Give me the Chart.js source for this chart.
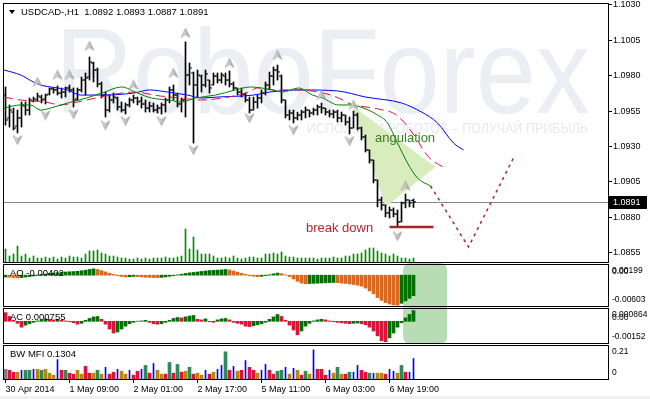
<!DOCTYPE html>
<html>
<head>
<meta charset="utf-8">
<title>USDCAD-,H1</title>
<script src="https://cdn.jsdelivr.net/npm/chart.js@4.4.1/dist/chart.umd.min.js"></script>
<style>
html, body { margin:0; padding:0; background:#fff; overflow:hidden; }
#wrap { position:relative; width:650px; height:399px; background:#fff; }
#wrap canvas { position:absolute; left:0; }
#strip { position:absolute; left:0; top:396px; width:650px; height:3px; background:#f0f0f0; }
</style>
</head>
<body>
<div id="wrap">
<canvas id="cMain" width="650" height="263" style="top:0px"></canvas>
<canvas id="cAO" width="650" height="44" style="top:263px"></canvas>
<canvas id="cAC" width="650" height="37" style="top:307px"></canvas>
<canvas id="cMFI" width="650" height="52" style="top:344px"></canvas>
<div id="strip"></div>
</div>
<script>
// ---------------- DATA ----------------
const symbol = 'USDCAD-';
const timeframe = 'H1';

const open = [1.09664,1.09502,1.09544,1.09445,1.09502,1.09587,1.09558,1.09622,1.09629,1.09650,
1.09636,1.09671,1.09707,1.09700,1.09678,1.09685,1.09714,1.09700,1.09636,1.09700,
1.09770,1.09791,1.09890,1.09841,1.09742,1.09664,1.09558,1.09629,1.09643,1.09580,
1.09558,1.09594,1.09629,1.09643,1.09622,1.09601,1.09572,1.09587,1.09558,1.09572,
1.09594,1.09629,1.09700,1.09664,1.09601,1.09629,1.09806,1.09820,1.09735,1.09798,
1.09735,1.09770,1.09735,1.09798,1.09770,1.09798,1.09770,1.09742,1.09714,1.09685,
1.09671,1.09629,1.09558,1.09615,1.09643,1.09678,1.09735,1.09798,1.09841,1.09798,
1.09629,1.09523,1.09537,1.09502,1.09523,1.09544,1.09558,1.09537,1.09558,1.09580,
1.09572,1.09544,1.09530,1.09544,1.09502,1.09523,1.09474,1.09431,1.09523,1.09431,
1.09368,1.09276,1.09205,1.09064,1.08923,1.08888,1.08831,1.08852,1.08824,1.08768,
1.08902,1.08923,1.08920];

const high = [1.09721,1.09594,1.09572,1.09558,1.09615,1.09615,1.09643,1.09650,1.09678,1.09664,
1.09671,1.09714,1.09714,1.09728,1.09714,1.09721,1.09735,1.09714,1.09714,1.09791,
1.09820,1.09933,1.09897,1.09855,1.09756,1.09685,1.09664,1.09678,1.09650,1.09615,
1.09608,1.09643,1.09664,1.09650,1.09650,1.09629,1.09615,1.09608,1.09594,1.09608,
1.09643,1.09721,1.09735,1.09678,1.09643,1.10039,1.09890,1.09827,1.09841,1.09806,
1.09841,1.09770,1.09820,1.09820,1.09820,1.09820,1.09834,1.09756,1.09714,1.09714,
1.09678,1.09650,1.09650,1.09664,1.09700,1.09756,1.09827,1.09862,1.09876,1.09806,
1.09629,1.09558,1.09558,1.09544,1.09558,1.09580,1.09558,1.09572,1.09594,1.09608,
1.09572,1.09558,1.09558,1.09558,1.09544,1.09523,1.09509,1.09551,1.09537,1.09438,
1.09382,1.09276,1.09205,1.09064,1.08944,1.08888,1.08874,1.08867,1.08852,1.08909,
1.08965,1.08923,1.08930];

const low = [1.09452,1.09438,1.09417,1.09396,1.09438,1.09523,1.09523,1.09615,1.09622,1.09608,
1.09601,1.09664,1.09678,1.09664,1.09643,1.09650,1.09685,1.09580,1.09629,1.09685,
1.09664,1.09770,1.09756,1.09721,1.09643,1.09509,1.09544,1.09608,1.09558,1.09544,
1.09530,1.09580,1.09608,1.09594,1.09572,1.09544,1.09544,1.09544,1.09537,1.09530,
1.09544,1.09608,1.09629,1.09580,1.09544,1.09509,1.09735,1.09325,1.09650,1.09685,
1.09721,1.09678,1.09735,1.09749,1.09749,1.09735,1.09721,1.09700,1.09664,1.09650,
1.09615,1.09537,1.09558,1.09572,1.09608,1.09664,1.09700,1.09735,1.09770,1.09608,
1.09502,1.09488,1.09467,1.09488,1.09488,1.09502,1.09509,1.09523,1.09523,1.09537,
1.09523,1.09509,1.09502,1.09474,1.09474,1.09452,1.09389,1.09431,1.09417,1.09347,
1.09262,1.09184,1.09043,1.08874,1.08852,1.08803,1.08796,1.08803,1.08739,1.08768,
1.08867,1.08874,1.08870];

const close = [1.09488,1.09558,1.09431,1.09502,1.09594,1.09558,1.09629,1.09636,1.09657,1.09629,
1.09664,1.09707,1.09700,1.09678,1.09685,1.09714,1.09700,1.09629,1.09700,1.09770,
1.09784,1.09897,1.09841,1.09742,1.09664,1.09558,1.09629,1.09650,1.09580,1.09558,
1.09594,1.09629,1.09643,1.09615,1.09601,1.09572,1.09587,1.09558,1.09572,1.09594,
1.09629,1.09700,1.09664,1.09601,1.09629,1.09806,1.09855,1.09735,1.09806,1.09735,
1.09813,1.09714,1.09798,1.09770,1.09806,1.09770,1.09742,1.09714,1.09685,1.09671,
1.09629,1.09558,1.09615,1.09643,1.09678,1.09735,1.09798,1.09841,1.09827,1.09629,
1.09523,1.09537,1.09502,1.09523,1.09544,1.09558,1.09537,1.09558,1.09580,1.09572,
1.09544,1.09530,1.09544,1.09502,1.09523,1.09474,1.09431,1.09523,1.09431,1.09368,
1.09276,1.09205,1.09064,1.08923,1.08888,1.08831,1.08852,1.08824,1.08768,1.08902,
1.08923,1.08902,1.08910];

const tickVolume = [910,420,560,1120,420,560,280,420,280,280,
350,280,350,210,350,280,420,350,350,280,
560,770,770,840,630,560,420,420,350,280,
280,210,210,280,210,280,210,280,280,280,
350,280,280,350,420,2310,910,1750,840,560,
560,560,420,280,280,350,280,420,280,210,
280,350,350,280,280,560,560,630,560,700,
420,350,350,280,280,280,280,280,210,280,
280,280,350,280,280,420,420,560,560,630,
840,980,980,770,630,560,420,560,420,280,
280,210,280];

// Alligator lines: [bar index, price]
const jawIdx   = [-0.375,3.75,7,8.75,15.5,18.75,23.75,32,36,40.5,45.5,49,53,62,66,74,83,90,99,104,108,112,114.5];
const jawPrice = [1.09841,1.09806,1.09756,1.09735,1.09700,1.09664,1.09664,1.09678,1.09700,1.09685,1.09664,1.09643,1.09650,1.09664,1.09685,1.09700,1.09693,1.09650,1.09608,1.09544,1.09467,1.09325,1.09276];
const teethIdx   = [-0.375,3.75,10,13.75,18,23.75,32,38.75,43.75,48.75,55.75,60.75,63,67.25,73,79.5,83.25,86.25,93.25,97.75,101.75,105.75,109.75];
const teethPrice = [1.09650,1.09629,1.09615,1.09594,1.09615,1.09650,1.09685,1.09657,1.09643,1.09629,1.09650,1.09685,1.09714,1.09700,1.09700,1.09678,1.09643,1.09601,1.09565,1.09523,1.09396,1.09227,1.09149];
const lipsIdx   = [-0.375,3.75,6.25,8.75,11.25,15.5,20.25,24.75,29,33,36.5,40.75,44,47.5,52.5,57.5,61.25,66.75,69.25,73.25,76.75,79.25,83.25,86.25,89.5,93,95.5,98,100.5,103,106.25];
const lipsPrice = [1.09572,1.09594,1.09594,1.09558,1.09572,1.09608,1.09643,1.09685,1.09721,1.09678,1.09643,1.09629,1.09615,1.09643,1.09664,1.09700,1.09721,1.09700,1.09685,1.09714,1.09664,1.09643,1.09594,1.09594,1.09572,1.09523,1.09467,1.09325,1.09184,1.09078,1.09022];

// Fractals
const fractalUpIdx   = [8,13,16,21,32,42,45,56,68,79,87,100];
const fractalUpPrice = [1.09756,1.09806,1.09806,1.10010,1.09735,1.09820,1.10102,1.09890,1.09947,1.09664,1.09594,1.09022];
const fractalDnIdx   = [3,10,17,25,30,39,47,61,72,86,98];
const fractalDnPrice = [1.09347,1.09523,1.09530,1.09452,1.09481,1.09481,1.09276,1.09502,1.09417,1.09340,1.08669];

// Annotations
const angulationIdx   = [86.75,107.5,95];
const angulationPrice = [1.09587,1.09156,1.08874];
const angulationText  = {idx:92.4, price:1.09361, text:'angulation'};
const breakDownText   = {idx:75.1, price:1.08725, text:'break down'};
const breakLineIdx    = [96,107];
const breakLinePrice  = [1.08732,1.08732];
const forecastIdx     = [106.25,115.75,127];
const forecastPrice   = [1.09022,1.08591,1.09220];
const highlightRange  = [99.4,110.4];

// Axes
const priceTicks   = [1.0855,1.0880,1.0905,1.0930,1.0955,1.0980,1.1005,1.1030];
const timeTickIdx  = [0,16,32,48,64,80,96];
const timeLabels   = ['30 Apr 2014','1 May 09:00','2 May 01:00','2 May 17:00','5 May 11:00','6 May 03:00','6 May 19:00'];

// Awesome Oscillator
const aoValues = [-0.00037,-0.00041,-0.00047,-0.00052,-0.00047,-0.00037,-0.00028,-0.00015,0.00004,0.00015,
0.00022,0.00034,0.00041,0.00048,0.00056,0.00062,0.00067,0.00071,0.00075,0.00086,
0.00097,0.00112,0.00123,0.00112,0.00090,0.00063,0.00037,0.00015,-0.00011,-0.00026,
-0.00034,-0.00030,-0.00024,-0.00028,-0.00034,-0.00041,-0.00045,-0.00047,-0.00048,-0.00043,
-0.00034,-0.00022,-0.00009,0.00006,0.00019,0.00034,0.00045,0.00054,0.00063,0.00073,
0.00082,0.00090,0.00095,0.00099,0.00104,0.00110,0.00101,0.00082,0.00060,0.00037,
0.00015,-0.00011,-0.00022,-0.00030,-0.00022,-0.00009,0.00007,0.00026,0.00041,0.00030,
0.00007,-0.00028,-0.00075,-0.00121,-0.00155,-0.00168,-0.00164,-0.00160,-0.00157,-0.00153,
-0.00149,-0.00145,-0.00142,-0.00147,-0.00155,-0.00162,-0.00172,-0.00183,-0.00196,-0.00214,
-0.00252,-0.00308,-0.00364,-0.00438,-0.00494,-0.00537,-0.00565,-0.00582,-0.00589,-0.00550,
-0.00504,-0.00453,-0.00402];
const aoAxis = {min:-0.00603, max:0.00199, labels:[[0.00199,'0.00199'],[0,'0.00'],[-0.00603,'-0.00603']]};

// Accelerator Oscillator
const acValues = [0.00061,0.00034,0.00007,-0.00014,-0.00041,-0.00027,-0.00017,-0.00007,0.00003,0.00010,
0.00017,0.00014,0.00010,0.00014,0.00007,0.00003,-0.00003,-0.00010,-0.00020,-0.00014,
0.00007,0.00020,0.00031,0.00034,0.00014,-0.00020,-0.00054,-0.00082,-0.00075,-0.00054,
-0.00034,-0.00017,-0.00007,0.00001,0.00003,0.00007,-0.00007,-0.00017,-0.00020,-0.00017,
-0.00007,0.00007,0.00020,0.00027,0.00024,0.00031,0.00037,0.00041,0.00014,0.00010,
0.00017,-0.00003,-0.00007,0.00010,0.00017,0.00020,0.00010,-0.00007,-0.00014,-0.00020,
-0.00034,-0.00037,-0.00031,-0.00024,-0.00017,-0.00007,0.00014,0.00031,0.00048,0.00034,
0.00007,-0.00027,-0.00061,-0.00095,-0.00068,-0.00034,-0.00014,0.00003,0.00010,0.00014,
0.00010,0.00003,-0.00003,-0.00007,-0.00010,-0.00014,-0.00017,-0.00014,-0.00012,-0.00017,
-0.00024,-0.00041,-0.00068,-0.00102,-0.00136,-0.00143,-0.00116,-0.00082,-0.00041,-0.00010,
0.00024,0.00048,0.000755];
const acAxis = {min:-0.00152, max:0.000864, labels:[[0.000864,'0.000864'],[0,'0.00'],[-0.00152,'-0.00152']]};

// Market Facilitation Index
const mfiValues = [0.0618,0.0556,0.0433,0.0433,0.0556,0.0556,0.0556,0.0618,0.0618,0.0556,
0.0618,0.0371,0.0247,0.1236,0.0556,0.0556,0.0371,0.0309,0.0556,0.0309,
0.0803,0.0371,0.0371,0.0556,0.0309,0.0742,0.0309,0.0433,0.0618,0.0494,
0.0309,0.0556,0.0247,0.0494,0.0618,0.0865,0.0371,0.0989,0.0556,0.0309,
0.0309,0.1051,0.0371,0.0927,0.0433,0.0494,0.0742,0.0309,0.0371,0.0247,
0.0556,0.0309,0.0433,0.0618,0.0865,0.1730,0.0556,0.0803,0.0494,0.0556,
0.1174,0.0742,0.0556,0.0371,0.0556,0.0927,0.0556,0.0309,0.0494,0.0556,
0.0742,0.0309,0.0680,0.0556,0.0247,0.0494,0.0309,0.1854,0.0618,0.0618,
0.0247,0.0556,0.0371,0.0742,0.0309,0.0309,0.0433,0.0433,0.0865,0.0556,
0.0433,0.0371,0.0371,0.0371,0.0371,0.0309,0.0618,0.0494,0.0371,0.0865,
0.0433,0.0433,0.1304];
// MFI zones: G = green, F = fade, K = fake, S = squat, N = none
const mfiZone = ['N','S','S','F','K','G','G','K','F','G',
'F','F','F','K','S','G','S','S','F','F',
'S','S','F','G','F','K','S','S','K','F',
'F','K','S','S','K','G','S','K','F','F',
'S','G','S','G','S','F','G','S','F','F',
'K','S','F','K','K','G','S','K','F','S',
'K','S','S','F','K','K','S','S','G','G',
'K','F','K','F','S','G','F','K','S','S',
'S','K','F','G','F','S','G','K','K','S',
'S','G','K','F','F','S','K','K','F','G',
'S','K','K'];
const mfiAxis = {min:0, max:0.21, labels:[[0.21,'0.21'],[0,'0']]};

const WATERMARK = 'RoboForex';
const WATERMARK_SUB = 'ИСПОЛЬЗУЙ РОБОТОВ – ПОЛУЧАЙ ПРИБЫЛЬ';

// ---------------- VIEW / STYLE ----------------
const FONT = '"Liberation Sans", Arial, sans-serif';
const X_MIN = -0.375, X_MAX = 150.625;
const Y_MIN = 1.08485, Y_MAX = 1.10307;
const VOL_MAX = 18060;
const AXIS_W = 42;
const TICK_SHIFT = 0.375;
const LAST = close.length - 1;

Chart.defaults.font.family = FONT;
Chart.defaults.color = '#000';

function makeArrow(up) {
  const c = document.createElement('canvas');
  c.width = 11; c.height = 11;
  const g = c.getContext('2d');
  g.beginPath();
  if (up) { g.moveTo(5.5,0.8); g.lineTo(10,9.8); g.lineTo(5.5,7); g.lineTo(1,9.8); }
  else { g.moveTo(5.5,10.2); g.lineTo(10,1.2); g.lineTo(5.5,4); g.lineTo(1,1.2); }
  g.closePath();
  const grd = g.createLinearGradient(1,0,10,0);
  grd.addColorStop(0,'#f0f0f0'); grd.addColorStop(0.5,'#c4c4c4'); grd.addColorStop(1,'#9a9a9a');
  g.fillStyle = grd; g.fill();
  g.strokeStyle = '#a2a2a2'; g.lineWidth = 0.7; g.stroke();
  return c;
}
const upArrow = makeArrow(true), dnArrow = makeArrow(false);

function baseOptions(padTop, padBottom) {
  return {
    responsive: false, animation: false, devicePixelRatio: 1, events: [],
    layout: { padding: { left: 4, right: 0, top: padTop, bottom: padBottom }, autoPadding: false },
    plugins: { legend: { display: false }, tooltip: { enabled: false } }
  };
}
function hiddenX() {
  return { type: 'linear', min: X_MIN, max: X_MAX, offset: false, display: false, grid: { offset: false } };
}
function fixY(s) { s.width = AXIS_W; s.paddingTop = 0; s.paddingBottom = 0; }
function panelY(axis) {
  return { type: 'linear', position: 'right', min: axis.min, max: axis.max,
    ticks: { display: false }, grid: { display: false }, border: { display: false }, afterFit: fixY };
}
function pts(idx, vals) { return idx.map((x, k) => ({ x: x, y: vals[k] })); }

function drawFrame(chart) {
  const { ctx, chartArea: a } = chart;
  ctx.save();
  ctx.strokeStyle = '#000'; ctx.lineWidth = 1;
  ctx.strokeRect(a.left - 0.5, a.top - 0.5, a.right - a.left + 1, a.bottom - a.top + 1);
  ctx.restore();
}

// ---------------- MAIN CHART ----------------
const mainDecor = {
  id: 'mainDecor',
  beforeDraw(chart) {
    const { ctx, chartArea: a } = chart;
    ctx.save();
    ctx.beginPath(); ctx.rect(a.left, a.top, a.right - a.left, a.bottom - a.top); ctx.clip();
    ctx.textBaseline = 'alphabetic';
    ctx.fillStyle = '#ebeef3';
    ctx.font = '120px ' + FONT;
    const mw = ctx.measureText(WATERMARK).width;
    ctx.save(); ctx.translate(55, 113); ctx.scale(535 / mw, 1); ctx.fillText(WATERMARK, 0, 0); ctx.restore();
    ctx.fillStyle = '#e6eaef';
    ctx.font = '15px ' + FONT;
    const sw = ctx.measureText(WATERMARK_SUB).width;
    ctx.save(); ctx.translate(307, 133); ctx.scale(281 / sw, 1); ctx.fillText(WATERMARK_SUB, 0, 0); ctx.restore();
    ctx.restore();
  },
  beforeDatasetsDraw(chart) {
    const { ctx, chartArea: a, scales: { x, y } } = chart;
    ctx.save();
    const py = Math.round(y.getPixelForValue(close[LAST])) + 0.5;
    ctx.strokeStyle = '#7b8b9b'; ctx.lineWidth = 1;
    ctx.beginPath(); ctx.moveTo(a.left, py); ctx.lineTo(a.right, py); ctx.stroke();
    ctx.fillStyle = '#d8ecbe';
    ctx.beginPath();
    angulationIdx.forEach((xi, k) => {
      const px = x.getPixelForValue(xi), pyy = y.getPixelForValue(angulationPrice[k]);
      if (k) ctx.lineTo(px, pyy); else ctx.moveTo(px, pyy);
    });
    ctx.closePath(); ctx.fill();
    ctx.restore();
  },
  afterDatasetsDraw(chart) {
    const { ctx, scales: { x, y } } = chart;
    ctx.save();
    ctx.textBaseline = 'middle'; ctx.textAlign = 'left';
    ctx.font = '13px ' + FONT;
    ctx.fillStyle = '#3b7d23';
    ctx.fillText(angulationText.text, x.getPixelForValue(angulationText.idx), y.getPixelForValue(angulationText.price));
    ctx.fillStyle = '#b4282e';
    ctx.fillText(breakDownText.text, x.getPixelForValue(breakDownText.idx), y.getPixelForValue(breakDownText.price));
    ctx.restore();
  },
  afterDraw(chart) {
    const { ctx, chartArea: a, scales: { y } } = chart;
    drawFrame(chart);
    ctx.save();
    ctx.fillStyle = '#000';
    ctx.beginPath(); ctx.moveTo(a.left + 5, a.top + 6); ctx.lineTo(a.left + 11, a.top + 6); ctx.lineTo(a.left + 8, a.top + 10); ctx.closePath(); ctx.fill();
    ctx.font = '9.5px ' + FONT; ctx.textBaseline = 'middle';
    const hdr = symbol + ',' + timeframe + '  ' + [open[LAST], high[LAST], low[LAST], close[LAST]].map(v => v.toFixed(4)).join(' ');
    ctx.fillText(hdr, a.left + 17, a.top + 8.5);
    const py = Math.round(y.getPixelForValue(close[LAST]));
    ctx.fillRect(a.right + 1, py - 6, 38, 13);
    ctx.fillStyle = '#fff'; ctx.font = '9px ' + FONT;
    ctx.fillText(close[LAST].toFixed(4), a.right + 5, py + 0.5);
    ctx.restore();
  }
};

new Chart(document.getElementById('cMain'), {
  type: 'bar',
  data: { datasets: [
    { type: 'bar', label: 'Volumes', yAxisID: 'yVol', data: tickVolume.map((v, i) => ({ x: i, y: v })),
      backgroundColor: '#008c00', barThickness: 1, grouped: false, order: 30 },
    { type: 'bar', label: 'High-Low', yAxisID: 'y', data: high.map((h, i) => ({ x: i, y: [low[i], h] })),
      backgroundColor: '#000', barThickness: 1, grouped: false, order: 20 },
    { type: 'line', label: 'Open', yAxisID: 'y', data: open.map((o, i) => ({ x: i - TICK_SHIFT, y: o })),
      showLine: false, pointStyle: 'line', pointRadius: 1, pointBorderColor: '#000', pointBorderWidth: 1, order: 19 },
    { type: 'line', label: 'Close', yAxisID: 'y', data: close.map((c, i) => ({ x: i + TICK_SHIFT, y: c })),
      showLine: false, pointStyle: 'line', pointRadius: 1, pointBorderColor: '#000', pointBorderWidth: 1, order: 18 },
    { type: 'line', label: 'Jaw', yAxisID: 'y', data: pts(jawIdx, jawPrice), borderColor: '#0000ff', borderWidth: 1,
      pointRadius: 0, cubicInterpolationMode: 'monotone', fill: false, order: 10 },
    { type: 'line', label: 'Teeth', yAxisID: 'y', data: pts(teethIdx, teethPrice), borderColor: '#e0103c', borderWidth: 1,
      borderDash: [9, 5], pointRadius: 0, cubicInterpolationMode: 'monotone', fill: false, order: 9 },
    { type: 'line', label: 'Lips', yAxisID: 'y', data: pts(lipsIdx, lipsPrice), borderColor: '#008000', borderWidth: 1,
      pointRadius: 0, cubicInterpolationMode: 'monotone', fill: false, order: 8 },
    { type: 'line', label: 'Fractal up', yAxisID: 'y', data: pts(fractalUpIdx, fractalUpPrice), showLine: false,
      pointStyle: upArrow, pointRadius: 5, pointBorderWidth: 0, order: 5 },
    { type: 'line', label: 'Fractal down', yAxisID: 'y', data: pts(fractalDnIdx, fractalDnPrice), showLine: false,
      pointStyle: dnArrow, pointRadius: 5, pointBorderWidth: 0, order: 5 },
    { type: 'line', label: 'Break line', yAxisID: 'y', data: pts(breakLineIdx, breakLinePrice), borderColor: '#a8262a',
      borderWidth: 2.5, pointRadius: 0, fill: false, order: 2 },
    { type: 'line', label: 'Forecast', yAxisID: 'y', data: pts(forecastIdx, forecastPrice), borderColor: '#a8262a',
      borderWidth: 1.5, borderDash: [3, 4], pointRadius: 0, fill: false, order: 2 }
  ]},
  options: Object.assign(baseOptions(4, 1), {
    scales: {
      x: hiddenX(),
      y: { type: 'linear', position: 'right', min: Y_MIN, max: Y_MAX,
        afterBuildTicks(s) { s.ticks = priceTicks.map(v => ({ value: v })); },
        ticks: { callback: v => Number(v).toFixed(4), font: { size: 9 }, padding: 1, color: '#000', autoSkip: false },
        grid: { drawOnChartArea: false, drawTicks: true, tickLength: 4, color: '#000' },
        border: { display: false },
        afterFit: fixY },
      yVol: { type: 'linear', display: false, min: 0, max: VOL_MAX }
    }
  }),
  plugins: [mainDecor]
});

// ---------------- INDICATOR PANELS ----------------
function panelPlugin(name, title, axis, highlight) {
  return {
    id: 'panel' + name,
    beforeDatasetsDraw(chart) {
      if (!highlight) return;
      const { ctx, chartArea: a, scales: { x } } = chart;
      const x1 = x.getPixelForValue(highlightRange[0]), x2 = x.getPixelForValue(highlightRange[1]);
      const top = 0;
      const bottom = highlight === 'top' ? chart.height : a.bottom + 1;
      ctx.save();
      ctx.fillStyle = '#b8dcb4';
      ctx.beginPath();
      const r = highlight === 'top' ? [7, 7, 0, 0] : [0, 0, 7, 7];
      if (ctx.roundRect) ctx.roundRect(x1, top, x2 - x1, bottom - top, r); else ctx.rect(x1, top, x2 - x1, bottom - top);
      ctx.fill();
      ctx.restore();
    },
    afterDraw(chart) {
      const { ctx, chartArea: a, scales: { y } } = chart;
      drawFrame(chart);
      ctx.save();
      ctx.fillStyle = '#000'; ctx.textAlign = 'left';
      ctx.font = '9.5px ' + FONT; ctx.textBaseline = 'middle';
      ctx.fillText(title, a.left + 6, a.top + 8);
      ctx.font = '8.5px ' + FONT;
      axis.labels.forEach(([v, t]) => {
        const py = y.getPixelForValue(v);
        if (v === axis.max) { ctx.textBaseline = 'top'; ctx.fillText(t, a.right + 4, py + 1); }
        else if (v === axis.min) { ctx.textBaseline = 'bottom'; ctx.fillText(t, a.right + 4, py - 2); }
        else { ctx.textBaseline = 'bottom'; ctx.fillText(t, a.right + 4, py + 1); }
      });
      ctx.restore();
    }
  };
}

const AO_UP = '#007000', AO_DN = '#d9691e';
const aoColors = aoValues.map((v, i) => (i === 0 || v > aoValues[i - 1]) ? AO_UP : AO_DN);
new Chart(document.getElementById('cAO'), {
  type: 'bar',
  data: { datasets: [{ label: 'AO', data: aoValues.map((v, i) => ({ x: i, y: v })), backgroundColor: aoColors,
    barThickness: 3, grouped: false }] },
  options: Object.assign(baseOptions(2, 1), { scales: { x: hiddenX(), y: panelY(aoAxis) } }),
  plugins: [panelPlugin('AO', 'AO ' + aoValues[LAST].toFixed(5), aoAxis, 'top')]
});

const AC_UP = '#007000', AC_DN = '#dc143c';
const acColors = acValues.map((v, i) => (i > 0 && v > acValues[i - 1]) ? AC_UP : AC_DN);
new Chart(document.getElementById('cAC'), {
  type: 'bar',
  data: { datasets: [{ label: 'AC', data: acValues.map((v, i) => ({ x: i, y: v })), backgroundColor: acColors,
    barThickness: 3, grouped: false }] },
  options: Object.assign(baseOptions(2, 1), { scales: { x: hiddenX(), y: panelY(acAxis) } }),
  plugins: [panelPlugin('AC', 'AC ' + acValues[LAST].toFixed(6), acAxis, 'bottom')]
});

const MFI_COLORS = { G: '#2e8b57', F: '#b8860b', K: '#0000ff', S: '#dc143c', N: '#808080' };
const mfiThick = [], mfiThin = [];
mfiValues.forEach((v, i) => { (mfiZone[i] === 'K' ? mfiThin : mfiThick).push({ x: i, y: v, z: mfiZone[i] }); });
new Chart(document.getElementById('cMFI'), {
  type: 'bar',
  data: { datasets: [
    { label: 'BW MFI', data: mfiThick, backgroundColor: mfiThick.map(p => MFI_COLORS[p.z]), barThickness: 3, grouped: false },
    { label: 'BW MFI fake', data: mfiThin, backgroundColor: MFI_COLORS.K, barThickness: 1, grouped: false }
  ]},
  options: Object.assign(baseOptions(2, 0), {
    scales: {
      x: { type: 'linear', position: 'bottom', min: X_MIN, max: X_MAX, offset: false,
        afterBuildTicks(s) { s.ticks = timeTickIdx.map(v => ({ value: v })); },
        ticks: { callback: v => timeLabels[timeTickIdx.indexOf(v)], align: 'start', padding: 1, font: { size: 9 },
          color: '#000', maxRotation: 0, minRotation: 0, autoSkip: false },
        grid: { drawOnChartArea: false, drawTicks: true, tickLength: 4, color: '#000', offset: false },
        border: { display: false },
        afterFit(s) { s.height = 17; s.paddingLeft = 0; s.paddingRight = 0; } },
      y: panelY(mfiAxis)
    }
  }),
  plugins: [panelPlugin('MFI', 'BW MFI ' + mfiValues[LAST].toFixed(4), mfiAxis, null)]
});
</script>
</body>
</html>
